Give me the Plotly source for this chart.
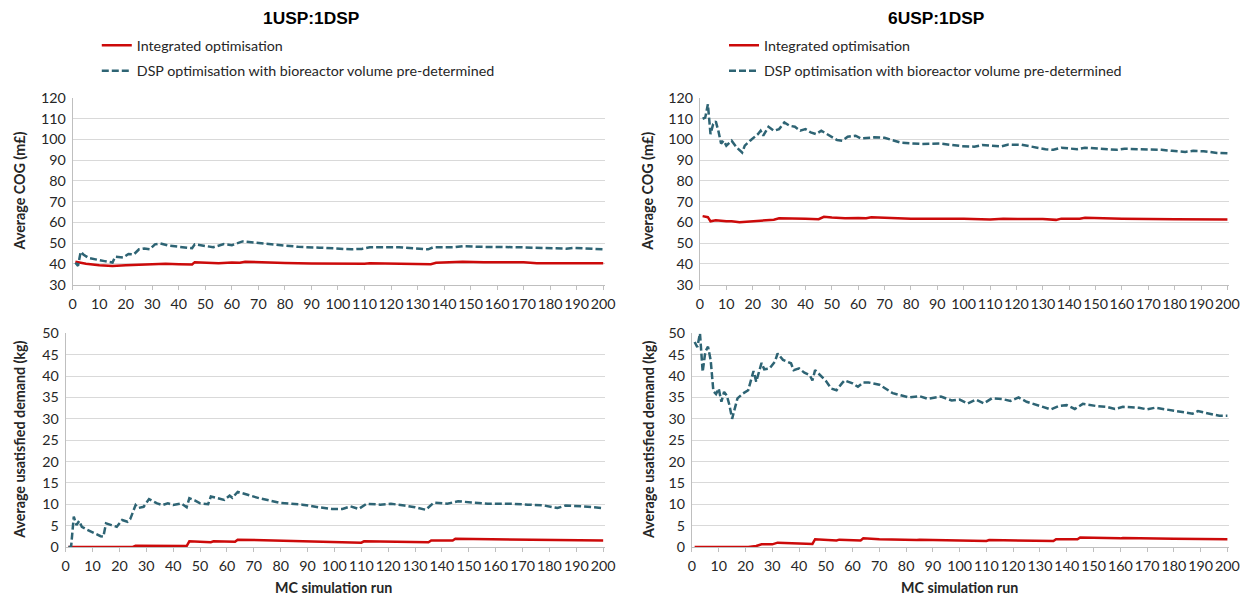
import plotly.graph_objects as go

# ---------------- data ----------------
runs_ticks = list(range(0, 201, 10))

# 1USP:1DSP - Average COG (m£)
tl_int_x = [1,3,5,10,15,20,25,30,35,40,45,46,50,55,60,63,65,70,80,90,100,105,110,112,120,130,135,137,145,147,155,170,175,200]
tl_int_y = [41,40.5,40,39.3,39,39.3,39.5,39.8,40,39.8,39.7,40.8,40.5,40.3,40.6,40.5,41,40.7,40.4,40.2,40,39.8,40,40.3,40.2,40.1,39.8,40.5,40.7,41,40.8,40.7,40.3,40.3]
tl_dsp_x = [1,2,3,4,6,8,12,15,16,19,21,23,25,27,29,31,33,36,41,45,46,49,53,57,60,64,70,78,85,93,100,105,109,112,123,130,134,136,144,147,153,168,183,186,189,198,200]
tl_dsp_y = [40.5,39,45.8,44.5,42.8,42.2,41.3,40.6,43.4,43,44.7,44.5,47,47.4,47,49.4,49.8,48.8,48,47.5,49.4,48.7,48,49.5,49,50.8,50,49,48.2,47.8,47.3,47,47.2,48,48,47.3,47,48,48,48.5,48.2,48,47.5,47.3,47.7,47,47]

# 6USP:1DSP - Average COG (m£)
tr_int_x = [1,3,4,6,10,12,15,20,24,28,30,33,40,45,47,50,55,60,63,65,70,75,80,100,110,115,130,135,137,144,146,160,175,180,200]
tr_int_y = [63,62.5,60.5,61,60.5,60.5,60,60.5,61,61.3,62,62,61.7,61.5,62.7,62.3,62,62.1,62,62.5,62.3,62,61.8,61.7,61.4,61.7,61.6,61.2,61.8,61.8,62.2,61.8,61.8,61.5,61.4]
tr_dsp_x = [1,2,3,4,5,6,7,8,9,10,12,13,14,16,17,19,22,23,24,26,28,30,32,34,36,38,40,42,44,46,48,50,52,54,56,59,61,66,70,76,84,91,99,104,107,114,117,122,126,131,134,137,143,146,152,158,161,167,175,179,184,187,191,196,200]
tr_dsp_y = [110,110.5,117,102.6,107.4,108.7,104,98,99.4,97,99.4,97.7,96,93.7,97,99.4,102.6,104.2,101.8,106.1,104.2,105,108.2,106.6,106.1,104.2,105,103.4,102.6,104.2,102.6,101,99.7,99.4,101.3,101.8,100.5,101,100.8,98.5,97.8,98,96.8,96.5,97.3,96.6,97.5,97.4,96.5,95.3,95,96,95.3,96,95.5,95,95.5,95.3,95,94.5,94,94.5,94.3,93.5,93.3]

# 1USP:1DSP - Average unsatisfied demand (kg)
bl_int_x = [1,25,26,45,46,50,54,55,63,64,75,85,100,110,111,130,135,136,144,145,160,180,200]
bl_int_y = [0,0,0.3,0.2,1.3,1.2,1.1,1.3,1.2,1.7,1.5,1.3,1.1,1.0,1.3,1.2,1.1,1.5,1.5,1.9,1.8,1.6,1.5]
bl_dsp_x = [1,2,3,4,5,6,8,11,13,14,15,17,19,21,23,24,26,27,29,31,33,34,36,38,40,43,45,46,48,50,53,54,56,59,61,62,64,68,72,80,84,88,94,99,103,106,109,112,117,121,126,130,134,137,142,146,151,157,161,166,172,178,183,186,192,198,200]
bl_dsp_y = [0,0,7.1,5.1,6.1,4.7,4.0,3.1,2.5,2.4,5.5,5.1,4.7,6.3,5.9,6.5,9.8,9.1,9.4,11.2,10.6,10.2,9.8,10.2,9.8,10.2,9.3,11.4,10.9,10.2,10,11.8,11.5,11,12,11.5,12.9,12.2,11.4,10.3,10.1,9.9,9.3,8.9,8.9,9.5,8.9,10.1,9.9,10.1,9.7,9.3,8.7,10.4,10.1,10.7,10.4,10.1,10.1,10.1,9.9,9.7,9.1,9.7,9.5,9.1,9.1]

# 6USP:1DSP - Average unsatisfied demand (kg)
br_int_x = [1,21,24,26,30,32,40,45,46,54,55,63,64,70,84,85,110,111,135,136,144,145,160,161,180,200]
br_int_y = [0,0,0.2,0.6,0.6,1.0,0.8,0.7,1.8,1.5,1.7,1.5,2.0,1.8,1.6,1.7,1.4,1.6,1.4,1.8,1.8,2.2,2.0,2.1,1.9,1.8]
br_dsp_x = [1,2,3,4,5,6,7,8,9,10,11,12,13,14,15,17,19,21,23,24,26,27,29,31,32,34,37,38,40,42,44,45,46,48,50,52,54,56,57,60,62,64,66,70,75,78,81,85,88,93,97,100,103,106,109,112,116,119,122,125,130,134,137,140,143,146,151,155,158,161,167,170,173,179,184,187,189,194,197,200]
br_dsp_y = [48,46.8,50,41,45.7,46.9,43.7,36.5,35.8,37.1,34,36.3,35.5,33.2,30,34.8,35.9,36.7,41.2,38.7,43.1,41.6,41.8,43.4,45.3,43.8,43,41.4,41.8,40.8,40.2,39,41.4,40.2,38.9,37.1,36.7,38.3,39,38.3,37.5,38.5,38.5,38,36,35.5,35,35.3,34.7,35.2,34.3,34.5,33.6,34.5,33.6,34.8,34.6,34.2,35,34,33,32.2,33,33.2,32.3,33.5,33,32.8,32.3,32.8,32.6,32.2,32.6,32,31.5,31.2,31.8,31.2,30.7,30.7]

panel_titles = ["1USP:1DSP", "6USP:1DSP"]
series_names = ["Integrated optimisation", "DSP optimisation with bioreactor volume pre-determined"]
cog_title = "Average COG (m£)"
dem_title = "Average usatisfied demand (kg)"
x_title = "MC simulation run"

# ---------------- styling ----------------
W, H = 1244, 600
# positions below are given in target-picture pixels; these factors map them
# onto the figure as it ends up in the photographed page
OX, KX = 3.4, 0.986
OY, KY = 7.8, 0.974
FS = 1 / 0.98  # font compensation

RED = "#CC0A0A"
TEAL = "#2E6474"
GRID = "#D9D9D9"
AXIS = "#BFBFBF"
TXT = "#262626"
FONT = "Lato"

def px(x):
    return ((x - OX) / KX) / W

def py(y):
    return 1 - ((y - OY) / KY) / H

fig = go.Figure()

panels = [
    ("x", "y", (72, 603), (97, 284), (30, 120), 10, (tl_int_x, tl_int_y), (tl_dsp_x, tl_dsp_y), "legend"),
    ("x2", "y2", (698, 1226), (97, 284), (30, 120), 10, (tr_int_x, tr_int_y), (tr_dsp_x, tr_dsp_y), "legend2"),
    ("x3", "y3", (65, 603), (333, 547), (0, 50), 5, (bl_int_x, bl_int_y), (bl_dsp_x, bl_dsp_y), None),
    ("x4", "y4", (690, 1226), (333, 547), (0, 50), 5, (br_int_x, br_int_y), (br_dsp_x, br_dsp_y), None),
]

tick_font = dict(family=FONT, size=14 * FS, color=TXT)

layout_axes = {}
for i, (xa, ya, xd, yd, yr, dt, ints, dsps, leg) in enumerate(panels):
    show = leg is not None
    fig.add_trace(go.Scatter(
        x=ints[0], y=ints[1], xaxis=xa, yaxis=ya, mode="lines",
        line=dict(color=RED, width=2.5), name=series_names[0],
        showlegend=show, legend=leg if leg else "legend", legendgroup=f"a{i}",
    ))
    fig.add_trace(go.Scatter(
        x=dsps[0], y=dsps[1], xaxis=xa, yaxis=ya, mode="lines",
        line=dict(color=TEAL, width=2.5, dash="7px,3px"), name=series_names[1],
        showlegend=show, legend=leg if leg else "legend", legendgroup=f"b{i}",
    ))
    xkey = "xaxis" + xa[1:]
    ykey = "yaxis" + ya[1:]
    layout_axes[xkey] = dict(
        domain=[px(xd[0]), px(xd[1])], anchor=ya, range=[0, 200.6],
        tickmode="array", tickvals=runs_ticks, ticktext=[str(v) for v in runs_ticks],
        tickangle=0, ticks="outside", ticklen=4, tickcolor=AXIS, showline=True,
        linecolor=AXIS, linewidth=1, showgrid=False, zeroline=False,
        ticklabelstandoff=2, tickfont=tick_font,
    )
    layout_axes[ykey] = dict(
        domain=[py(yd[1]), py(yd[0])], anchor=xa, range=list(yr), dtick=dt,
        showgrid=True, gridcolor=GRID, gridwidth=1, showline=True, linecolor=AXIS,
        linewidth=1, zeroline=False, ticks="", ticklabelstandoff=3,
        tickfont=tick_font,
    )

fig.update_layout(**layout_axes)

annotations = []
for cx, t in zip([310, 934], panel_titles):
    annotations.append(dict(x=px(cx), y=py(17), xref="paper", yref="paper", text=f"<b>{t}</b>",
                            showarrow=False, font=dict(family="Liberation Sans", size=17 * FS, color="#000000"),
                            xanchor="center", yanchor="middle"))
for cx, cy, t in [(19, 190, cog_title), (646, 190, cog_title), (19, 440, dem_title), (646, 440, dem_title)]:
    annotations.append(dict(x=px(cx), y=py(cy), xref="paper", yref="paper", text=f"<b>{t}</b>",
                            showarrow=False, textangle=-90, font=dict(family=FONT, size=14 * FS, color=TXT),
                            xanchor="center", yanchor="middle"))
for cx in [332, 957]:
    annotations.append(dict(x=px(cx), y=py(588), xref="paper", yref="paper", text=f"<b>{x_title}</b>",
                            showarrow=False, font=dict(family=FONT, size=14 * FS, color=TXT),
                            xanchor="center", yanchor="middle"))

legend_style = dict(font=dict(family=FONT, size=14 * FS, color=TXT), bgcolor="rgba(0,0,0,0)",
                    xanchor="left", yanchor="top", traceorder="grouped", tracegroupgap=4,
                    itemwidth=30)

fig.update_layout(
    width=W, height=H, margin=dict(l=0, r=0, t=0, b=0),
    paper_bgcolor="white", plot_bgcolor="white",
    annotations=annotations,
    legend=dict(x=px(96), y=py(28.3), **legend_style),
    legend2=dict(x=px(722), y=py(28.3), **legend_style),
)

fig.write_html("out.html")
